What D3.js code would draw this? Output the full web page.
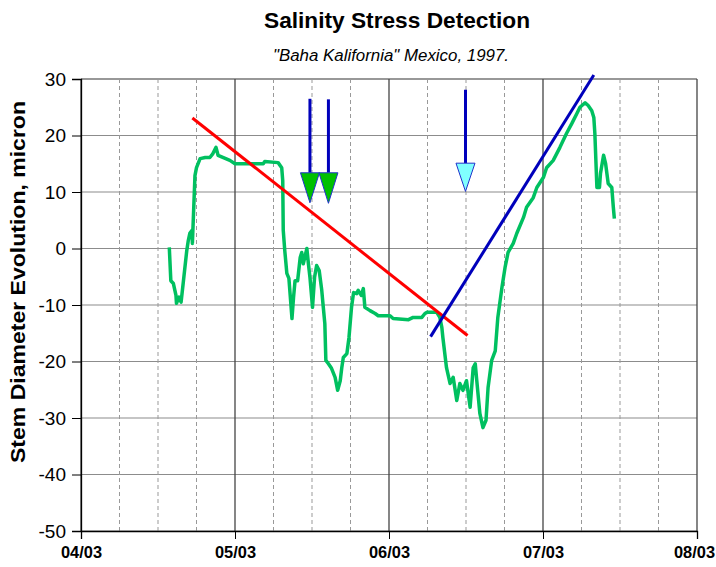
<!DOCTYPE html>
<html>
<head>
<meta charset="utf-8">
<script src="https://cdn.jsdelivr.net/npm/d3@7"></script>
<style>
body { margin: 0; background: #fff; }
svg { font-family: Arial, "Liberation Sans", sans-serif; }
</style>
</head>
<body>
<svg id="chart" width="716" height="567"></svg>
<script>
// days since 04/03, stem diameter evolution (micron)
var days = [17.2, 17.5, 18.0, 18.5, 18.6, 19.1, 19.5, 19.9, 20.6, 20.9, 21.2, 21.6, 21.7, 22.2, 22.5, 23.2,
    24.2, 25.1, 25.7, 26.3, 26.7, 29.0, 30.0, 35.5, 35.8, 38.4, 39.1, 39.3, 39.4, 39.7, 40.1, 40.5,
    41.1, 41.4, 41.7, 42.2, 42.7, 43.0, 43.3, 44.0, 44.3, 44.6, 45.1, 45.5, 45.9, 46.4, 46.9, 47.2,
    47.5, 47.7, 48.2, 48.8, 49.5, 50.0, 50.5, 50.8, 51.1, 51.8, 52.2, 52.7, 53.1, 53.7, 54.0, 54.6,
    55.0, 55.3, 56.3, 57.3, 57.9, 60.2, 60.8, 63.8, 64.7, 66.4, 67.0, 67.4, 69.3, 69.9, 70.3, 70.5,
    71.2, 71.9, 72.5, 73.2, 73.8, 74.4, 75.1, 75.8, 76.4, 76.8, 77.1, 77.7, 78.3, 78.9, 79.3, 80.0,
    80.7, 81.2, 82.0, 82.6, 83.2, 84.2, 84.9, 86.2, 86.8, 88.1, 88.8, 90.1, 90.7, 92.0, 93.3, 94.6,
    95.6, 96.6, 97.2, 98.2, 98.8, 99.5, 99.9, 100.1, 100.5, 101.0, 101.2, 101.8, 102.2, 102.7, 103.4,
    103.7, 103.9];
var stemDiameter = [0.2, -5.7, -6.2, -8.3, -9.7, -8.6, -9.5, -6.2, -0.4, 1.4, 2.7, 3.2, 0.9, 12.9, 14.3, 15.9,
    16.1, 16.1, 16.8, 17.9, 16.5, 15.6, 15.0, 15.0, 15.4, 15.2, 14.3, 12.0, 3.2, -0.4, -4.4, -5.3,
    -12.4, -8.7, -5.7, -5.7, -1.6, -0.7, -2.7, 0.0, -2.7, -5.1, -10.4, -5.1, -3.0, -3.9, -7.4, -10.4,
    -13.3, -19.8, -20.4, -21.2, -22.8, -25.1, -23.4, -21.1, -19.3, -18.6, -15.8, -10.4, -7.8, -8.0, -7.4, -8.3,
    -7.1, -10.4, -11.0, -11.5, -11.9, -11.9, -12.4, -12.6, -12.2, -12.2, -11.5, -11.3, -11.3, -12.2, -14.0, -15.8,
    -21.1, -23.9, -22.8, -26.9, -23.9, -25.1, -23.4, -28.1, -21.1, -20.4, -23.4, -29.2, -31.7, -30.4, -24.6, -19.8,
    -18.1, -12.2, -6.9, -3.4, -0.7, 0.9, 2.7, 5.5, 7.3, 9.0, 10.8, 12.6, 14.3, 15.6, 17.9, 20.4,
    22.1, 23.9, 25.0, 25.8, 25.3, 24.4, 23.2, 20.4, 10.8, 10.8, 13.3, 16.5, 15.0, 11.5, 10.8,
    7.3, 5.3];

// trend lines [start, end] as [day, micron]
var decliningTrend = [[21.7, 23.1], [75.3, -15.4]];
var recoveryTrend = [[68.1, -15.6], [99.9, 30.7]];

// arrows: day, shaft top, head top, tip (micron)
var arrowDays = [44.6, 48.2, 74.9];
var arrowTops = [26.5, 26.4, 28.1];
var arrowHeads = [13.4, 13.4, 15.1];
var arrowTips = [8.1, 8.0, 10.1];
var arrowFills = ["#00c000", "#00c000", "#80ffff"];

var xTickDays = [0, 30, 60, 90, 120];
var xTickLabels = ["04/03", "05/03", "06/03", "07/03", "08/03"];
var xMinorDays = [7.5, 15, 22.5, 37.5, 45, 52.5, 67.5, 75, 82.5, 97.5, 105, 112.5];
var yTicks = [30, 20, 10, 0, -10, -20, -30, -40, -50];

var svg = d3.select("#chart"),
MARGINS = { top: 79, right: 19, bottom: 36, left: 81 },
WIDTH = 716,
HEIGHT = 567;

var xScale = d3.scaleLinear()
    .domain([0, 120])
    .range([MARGINS.left, WIDTH - MARGINS.right]);

var yScale = d3.scaleLinear()
    .domain([-50, 30])
    .range([HEIGHT - MARGINS.bottom, MARGINS.top]);

// titles
svg.append("text")
    .attr("x", 397).attr("y", 28)
    .attr("text-anchor", "middle")
    .style("font-size", "22px").style("font-weight", "bold")
    .attr("textLength", 266).attr("lengthAdjust", "spacingAndGlyphs")
    .text("Salinity Stress Detection");

svg.append("text")
    .attr("x", 391).attr("y", 61)
    .attr("text-anchor", "middle")
    .style("font-size", "16px").style("font-style", "italic")
    .attr("textLength", 236).attr("lengthAdjust", "spacingAndGlyphs")
    .text("\"Baha Kalifornia\" Mexico, 1997.");

svg.append("text")
    .attr("transform", "rotate(-90)")
    .attr("x", -282).attr("y", 25)
    .attr("text-anchor", "middle")
    .style("font-size", "21px").style("font-weight", "bold")
    .attr("textLength", 362).attr("lengthAdjust", "spacingAndGlyphs")
    .text("Stem Diameter Evolution, micron");

// grid
var grid = svg.append("g");
grid.selectAll(".hgrid")
    .data(yTicks)
    .enter().append("line")
    .attr("x1", xScale(0)).attr("x2", xScale(120))
    .attr("y1", function (d) { return yScale(d); })
    .attr("y2", function (d) { return yScale(d); })
    .attr("stroke", function (d) { return d == 30 ? "#333" : "#8c8c8c"; })
    .attr("stroke-width", 1.2);

grid.selectAll(".minor")
    .data(xMinorDays)
    .enter().append("line")
    .attr("x1", function (d) { return xScale(d); })
    .attr("x2", function (d) { return xScale(d); })
    .attr("y1", yScale(30)).attr("y2", yScale(-50) + 3)
    .attr("stroke", "#999")
    .attr("stroke-dasharray", "4,3");

grid.selectAll(".major")
    .data(xTickDays)
    .enter().append("line")
    .attr("x1", function (d) { return xScale(d); })
    .attr("x2", function (d) { return xScale(d); })
    .attr("y1", yScale(30)).attr("y2", yScale(-50))
    .attr("stroke", "#444")
    .attr("stroke-width", 1.3);

// axes
var xAxis = d3.axisBottom(xScale)
    .tickValues(xTickDays)
    .tickSize(8)
    .tickPadding(8)
    .tickFormat(function (d, i) { return xTickLabels[i]; });

var gx = svg.append("g")
    .attr("transform", "translate(0," + yScale(-50) + ")")
    .call(xAxis);
gx.selectAll("text").style("font-size", "16px").style("font-weight", "bold").attr("fill", "#000")
    .attr("textLength", 41).attr("lengthAdjust", "spacingAndGlyphs");
gx.selectAll(".tick").filter(function (d) { return d == 120; }).select("text").attr("dx", -3);

var yAxis = d3.axisLeft(yScale)
    .tickValues(yTicks)
    .tickSize(9)
    .tickPadding(6)
    .tickFormat(function (d) { return String(d); });

var gy = svg.append("g")
    .attr("transform", "translate(" + xScale(0) + ",0)")
    .call(yAxis);
gy.selectAll("text").style("font-size", "19px").attr("fill", "#000");

svg.selectAll(".domain").attr("stroke", "#000").attr("stroke-width", 1.3);

// green data line
var lineGen = d3.line()
    .x(function (d, i) { return xScale(days[i]); })
    .y(function (d) { return yScale(d); });

svg.append("path")
    .attr("d", lineGen(stemDiameter))
    .attr("stroke", "#00c060")
    .attr("stroke-width", 3.5)
    .attr("stroke-linejoin", "round")
    .attr("fill", "none");

// trend lines
var trendGen = d3.line()
    .x(function (d) { return xScale(d[0]); })
    .y(function (d) { return yScale(d[1]); });

svg.append("path")
    .attr("d", trendGen(decliningTrend))
    .attr("stroke", "#ff0000")
    .attr("stroke-width", 3)
    .attr("fill", "none");

svg.append("path")
    .attr("d", trendGen(recoveryTrend))
    .attr("stroke", "#0000bb")
    .attr("stroke-width", 3)
    .attr("fill", "none");

// arrows
arrowDays.forEach(function (d, i) {
    var x = xScale(d);
    svg.append("line")
        .attr("x1", x).attr("x2", x)
        .attr("y1", yScale(arrowTops[i])).attr("y2", yScale(arrowHeads[i]))
        .attr("stroke", "#0000bb")
        .attr("stroke-width", 3);
    var hy = yScale(arrowHeads[i]), ty = yScale(arrowTips[i]);
    svg.append("path")
        .attr("d", "M" + (x - 9.5) + "," + hy + "L" + (x + 9.5) + "," + hy + "L" + x + "," + ty + "Z")
        .attr("fill", arrowFills[i])
        .attr("stroke", "#2233cc")
        .attr("stroke-width", 1);
});
</script>
</body>
</html>
